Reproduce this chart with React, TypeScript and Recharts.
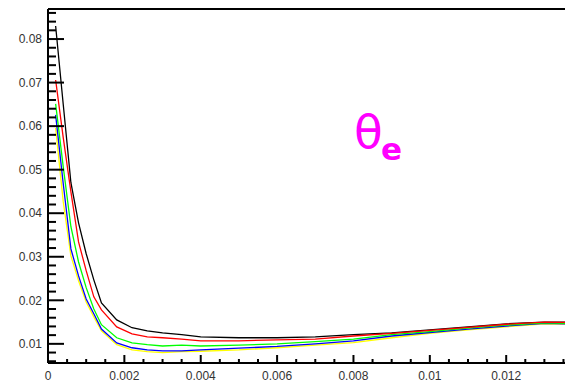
import React from 'react';
import { LineChart, Line, XAxis, YAxis } from 'recharts';

// sample positions along x
const xValues = [
  0.0002, 0.0004, 0.0006, 0.0008, 0.001, 0.0012, 0.0014, 0.0018, 0.0022, 0.0026, 0.003, 0.0035,
  0.004, 0.005, 0.006, 0.007, 0.008, 0.009, 0.01, 0.011, 0.012, 0.013, 0.0136,
];

const blackSeries = [
  0.083, 0.0649, 0.047, 0.0378, 0.0307, 0.0247, 0.0194, 0.0155, 0.0137, 0.013, 0.0125, 0.0121,
  0.0116, 0.0114, 0.0114, 0.0116, 0.0121, 0.0125, 0.0132, 0.0139, 0.0146, 0.015, 0.015,
];
const redSeries = [
  0.0706, 0.0573, 0.0449, 0.0334, 0.0268, 0.0208, 0.0178, 0.0139, 0.0123, 0.0116, 0.0114, 0.0111,
  0.0107, 0.0107, 0.0109, 0.0111, 0.0118, 0.0124, 0.0131, 0.0138, 0.0145, 0.015, 0.0149,
];
const greenSeries = [
  0.0651, 0.0506, 0.0369, 0.0288, 0.0229, 0.018, 0.0144, 0.0114, 0.0102, 0.0098, 0.0095, 0.0097,
  0.0095, 0.0097, 0.01, 0.0105, 0.0111, 0.0121, 0.0128, 0.0136, 0.0143, 0.0148, 0.0147,
];
const blueSeries = [
  0.0626, 0.0467, 0.0318, 0.0256, 0.0203, 0.0169, 0.0134, 0.0102, 0.0091, 0.0086, 0.0084, 0.0084,
  0.0086, 0.009, 0.0094, 0.01, 0.0107, 0.0118, 0.0126, 0.0134, 0.0141, 0.0147, 0.0146,
];
const yellowSeries = [
  0.0596, 0.0426, 0.0302, 0.0245, 0.0196, 0.0162, 0.013, 0.0098, 0.0086, 0.0082, 0.008, 0.0082,
  0.0083, 0.0086, 0.0091, 0.0097, 0.0103, 0.0114, 0.0124, 0.0132, 0.0139, 0.0146, 0.0145,
];

// labelled ticks
const xMajorTicks = [0, 0.002, 0.004, 0.006, 0.008, 0.01, 0.012];
const yMajorTicks = [0.01, 0.02, 0.03, 0.04, 0.05, 0.06, 0.07, 0.08];

// minor tick steps
const xMinorTicks: number[] = [];
for (let i = 1; i <= 27; i++) xMinorTicks.push(+(i * 0.0005).toFixed(4));
const yMinorTicks: number[] = [];
for (let i = 3; i <= 43; i++) yMinorTicks.push(+(i * 0.002).toFixed(3));

const X_DOMAIN: [number, number] = [0, 0.01354];
const Y_DOMAIN: [number, number] = [0.0056, 0.0869];

// plot rectangle (chart margins + axis sizes)
const PLOT = { left: 48, top: 9, width: 517, height: 354 };

const data = xValues.map((x, i) => ({
  x,
  black: blackSeries[i],
  red: redSeries[i],
  green: greenSeries[i],
  blue: blueSeries[i],
  yellow: yellowSeries[i],
}));

const isMajor = (v: number, majors: number[]) => majors.some((m) => Math.abs(m - v) < 1e-9);
const fmt = (v: number) => String(+v.toFixed(4));

// inward tick marks, drawn on top of the chart
const px = (v: number) => PLOT.left + ((v - X_DOMAIN[0]) / (X_DOMAIN[1] - X_DOMAIN[0])) * PLOT.width;
const py = (v: number) => PLOT.top + ((Y_DOMAIN[1] - v) / (Y_DOMAIN[1] - Y_DOMAIN[0])) * PLOT.height;

const tickStyle = { fill: '#333', fontSize: 12, fontFamily: 'Liberation Sans, Arial, sans-serif' };

export default function App() {
  const bottom = PLOT.top + PLOT.height;
  return (
    <div style={{ position: 'fixed', left: 0, top: 0, width: 565, height: 383, background: '#fff' }}>
      <LineChart width={565} height={383} data={data} margin={{ top: 0, right: 0, bottom: 0, left: 0 }}>
        <XAxis
          xAxisId="top"
          orientation="top"
          dataKey="x"
          type="number"
          domain={X_DOMAIN}
          allowDataOverflow
          height={9}
          tick={false}
          tickLine={false}
          axisLine={{ stroke: '#000', strokeWidth: 2 }}
        />
        <XAxis
          dataKey="x"
          type="number"
          domain={X_DOMAIN}
          allowDataOverflow
          ticks={xMajorTicks}
          interval={0}
          height={20}
          tickSize={0}
          tickMargin={8}
          tickLine={false}
          tick={tickStyle}
          tickFormatter={fmt}
          axisLine={{ stroke: '#000', strokeWidth: 2 }}
        />
        <YAxis
          type="number"
          domain={Y_DOMAIN}
          allowDataOverflow
          ticks={yMajorTicks}
          interval={0}
          width={48}
          tickSize={0}
          tickMargin={6}
          tickLine={false}
          tick={tickStyle}
          tickFormatter={fmt}
          axisLine={{ stroke: '#000', strokeWidth: 2 }}
        />
        <Line dataKey="black" stroke="#000000" strokeWidth={1.3} dot={false} isAnimationActive={false} />
        <Line dataKey="yellow" stroke="#ffff00" strokeWidth={1.3} dot={false} isAnimationActive={false} />
        <Line dataKey="blue" stroke="#0000ff" strokeWidth={1.3} dot={false} isAnimationActive={false} />
        <Line dataKey="green" stroke="#00ff00" strokeWidth={1.3} dot={false} isAnimationActive={false} />
        <Line dataKey="red" stroke="#ff0000" strokeWidth={1.3} dot={false} isAnimationActive={false} />
      </LineChart>
      <svg width={565} height={383} style={{ position: 'absolute', left: 0, top: 0, pointerEvents: 'none' }}>
        {yMinorTicks.map((v) => (
          <line
            key={`ym-${v}`}
            x1={PLOT.left}
            x2={PLOT.left + (isMajor(v, yMajorTicks) ? 16 : 8)}
            y1={py(v)}
            y2={py(v)}
            stroke="#000"
            strokeWidth={2}
          />
        ))}
        {xMinorTicks.map((v) => (
          <line
            key={`xm-${v}`}
            x1={px(v)}
            x2={px(v)}
            y1={bottom}
            y2={bottom - (isMajor(v, xMajorTicks) ? 8 : 4)}
            stroke="#000"
            strokeWidth={2}
          />
        ))}
        <text x={354} y={148} fill="#ff00ff" fontSize={47} fontFamily="DejaVu Sans, sans-serif">
          θ
        </text>
        <text x={381} y={160} fill="#ff00ff" fontSize={31} fontWeight="bold" fontFamily="DejaVu Sans, sans-serif">
          e
        </text>
      </svg>
    </div>
  );
}
